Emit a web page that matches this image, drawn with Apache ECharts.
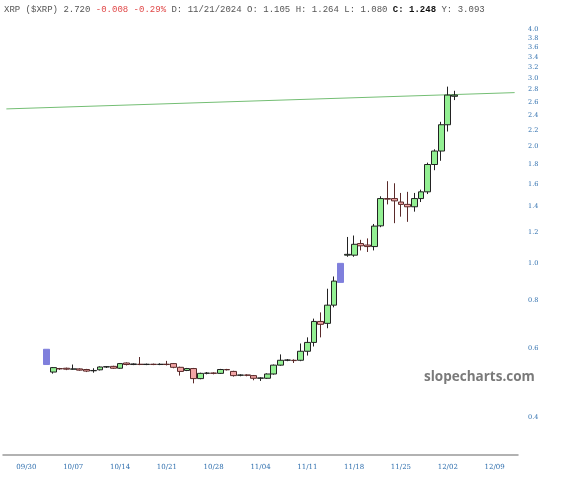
<!DOCTYPE html>
<html>
<head>
<meta charset="utf-8">
<script src="https://cdn.jsdelivr.net/npm/echarts@6/dist/echarts.min.js"></script>
<style>
  html, body { margin: 0; padding: 0; background: #fff; }
  #chart { width: 566px; height: 480px; }
</style>
</head>
<body>
<div id="chart"></div>
<script>
// Daily categories 09/27/2024 .. 12/12/2024
const firstDay = new Date(2024, 8, 27);
const dayCount = 77;
const firstCandleIndex = 7; // 10/04

const opens  = [.524,.535,.536,.533,.534,.532,.528,.531,.540,.542,.536,.553,.548,.549,.548,.549,.548,.549,.551,.539,.529,.535,.504,.520,.521,.520,.532,.526,.514,.515,.513,.505,.505,.518,.546,.562,.562,.562,.593,.625,.708,.700,.780,null,1.050,1.050,1.125,1.115,1.105,1.250,1.470,1.470,1.440,1.420,1.400,1.470,1.530,1.800,1.950,2.280,2.700];
const closes = [.538,.534,.533,.534,.530,.527,.529,.540,.541,.536,.551,.548,.550,.548,.549,.548,.549,.548,.539,.526,.535,.504,.520,.521,.520,.532,.531,.513,.515,.514,.505,.506,.518,.546,.562,.563,.561,.593,.625,.708,.696,.780,.900,null,1.055,1.120,1.110,1.105,1.248,1.470,1.465,1.450,1.420,1.400,1.470,1.530,1.800,1.950,2.280,2.720,2.720];
const highs  = [.540,.537,.538,.548,.536,.534,.536,.542,.543,.544,.553,.555,.552,.573,.551,.551,.552,.560,.553,.541,.537,.537,.522,.524,.523,.534,.534,.528,.517,.517,.515,.508,.520,.548,.582,.566,.565,.621,.644,.720,.747,.860,.925,null,1.170,1.180,1.150,1.160,1.264,1.490,1.630,1.610,1.520,1.530,1.520,1.550,1.820,1.970,2.320,2.860,2.790];
const lows   = [.519,.531,.530,.531,.528,.524,.522,.529,.537,.534,.534,.545,.546,.546,.546,.546,.546,.545,.536,.513,.527,.490,.502,.517,.517,.518,.529,.510,.511,.511,.499,.497,.503,.516,.544,.559,.553,.559,.578,.610,.644,.680,.770,null,1.040,1.040,1.080,1.070,1.080,1.240,1.420,1.270,1.320,1.280,1.360,1.440,1.510,1.740,1.840,2.190,2.640];

// purple boxes (gap markers)
const markerIndex = [6, 50];
const markerLow = [0.548, 0.893];
const markerHigh = [0.600, 1.000];

const trendStart = 2.505, trendEnd = 2.76;
const yTicks = [0.4, 0.6, 0.8, 1.0, 1.2, 1.4, 1.6, 1.8, 2.0, 2.2, 2.4, 2.6, 2.8, 3.0, 3.2, 3.4, 3.6, 3.8, 4.0];

const pad = n => String(n).padStart(2, '0');
const dates = [], weekdays = [];
for (let i = 0; i < dayCount; i++) {
    const d = new Date(firstDay.getTime() + i * 86400000);
    dates.push(pad(d.getMonth() + 1) + '/' + pad(d.getDate()));
    weekdays.push(d.getDay());
}

const candleData = dates.map(() => '-');
opens.forEach((o, k) => {
    if (o !== null) candleData[firstCandleIndex + k] = [o, closes[k], lows[k], highs[k]];
});
const markerData = dates.map(() => '-');
markerIndex.forEach((idx, k) => {
    markerData[idx] = [markerLow[k], markerHigh[k], markerLow[k], markerHigh[k]];
});
const trendData = dates.map(() => null);
trendData[0] = trendStart;
trendData[dayCount - 1] = trendEnd;

const chart = echarts.init(document.getElementById('chart'));

chart.setOption({
    animation: false,
    grid: { left: 3, right: 48, top: 22, bottom: 25 },
    xAxis: {
        type: 'category',
        data: dates,
        boundaryGap: true,
        axisLine: { lineStyle: { color: '#999', width: 1.5 } },
        axisTick: { show: false },
        axisLabel: {
            interval: (i) => weekdays[i] === 1,
            fontFamily: 'DejaVu Serif', fontSize: 7, color: '#2f6fae', margin: 9
        },
        splitLine: { show: false }
    },
    yAxis: {
        type: 'log', logBase: 10,
        position: 'right',
        min: 0.32, max: 4.2,
        axisLine: { show: false },
        axisTick: { show: false },
        axisLabel: { show: false },
        splitLine: { show: false }
    },
    series: [
        {
            type: 'line',
            data: trendData,
            connectNulls: true,
            symbol: 'none',
            lineStyle: { color: '#74be74', width: 1 },
            z: 1
        },
        {
            type: 'candlestick',
            data: candleData,
            barWidth: '95%',
            itemStyle: {
                color: '#93f093', color0: '#f2a5a5',
                borderColor: '#222', borderColor0: '#5a2a2a', borderWidth: 1
            },
            z: 3
        },
        {
            type: 'candlestick',
            data: markerData,
            barWidth: '95%',
            itemStyle: {
                color: '#7f7fdc', color0: '#7f7fdc',
                borderColor: '#7f7fdc', borderColor0: '#7f7fdc', borderWidth: 1
            },
            z: 2
        }
    ]
});

// y tick labels placed with the axis's own log scale
const graphics = yTicks.map(v => ({
    type: 'text',
    left: 528,
    top: chart.convertToPixel({ yAxisIndex: 0 }, v) - 4,
    style: { text: v.toFixed(1), fontFamily: 'DejaVu Serif', fontSize: 6.5, fill: '#2f6fae' }
}));
const mono = { fontFamily: 'Liberation Mono', fontSize: 9, fontWeight: 'normal' };
graphics.push({
    type: 'text', left: 4, top: 5,
    style: {
        text: '{n|XRP ($XRP) 2.720 }{r|-0.008 -0.29%}{n| D: 11/21/2024 O: 1.105 H: 1.264 L: 1.080 }{b|C: 1.248}{n| Y: 3.093}',
        rich: {
            n: Object.assign({ fill: '#555' }, mono),
            r: Object.assign({ fill: '#e04848' }, mono),
            b: Object.assign({}, mono, { fill: '#111', fontWeight: 'bold' })
        }
    }
});
graphics.push({
    type: 'text', left: 424, top: 370,
    style: { text: 'slopecharts.com', fontFamily: 'Open Sans', fontWeight: 'bold', fontSize: 13.5, fill: '#7a7a7a' }
});
chart.setOption({ graphic: graphics });
</script>
</body>
</html>
